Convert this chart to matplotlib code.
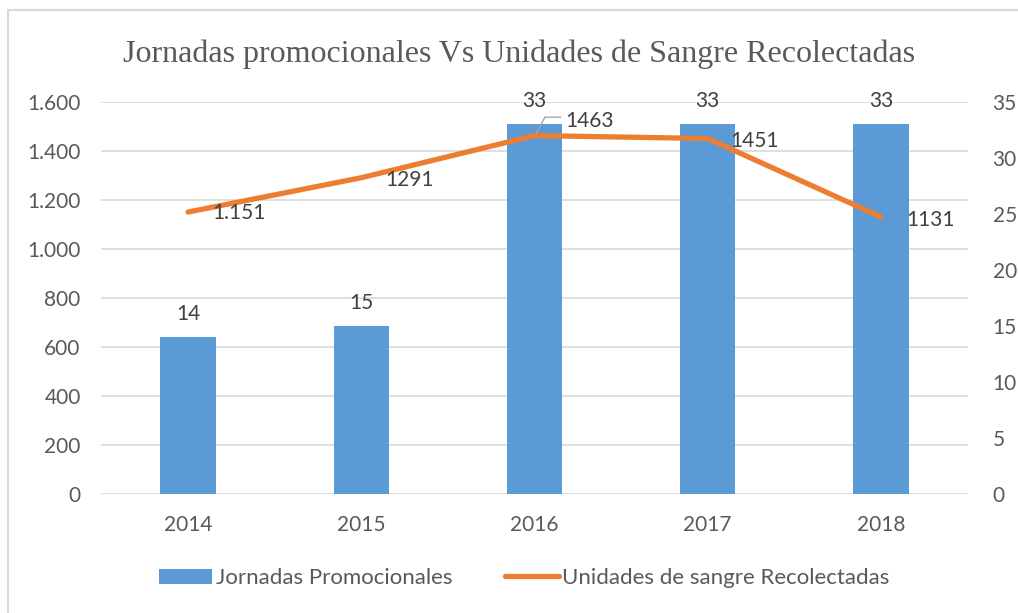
import matplotlib.pyplot as plt
from matplotlib.lines import Line2D
from matplotlib.patches import Patch, Rectangle
import numpy as np

years = ["2014", "2015", "2016", "2017", "2018"]
jornadas = [14, 15, 33, 33, 33]
unidades = [1151, 1291, 1463, 1451, 1131]
unidades_labels = ["1.151", "1291", "1463", "1451", "1131"]
left_ticks = [0, 200, 400, 600, 800, 1000, 1200, 1400, 1600]
left_ticklabels = ["0", "200", "400", "600", "800", "1.000", "1.200", "1.400", "1.600"]
right_ticks = [0, 5, 10, 15, 20, 25, 30, 35]

blue = "#5B9BD5"
orange = "#ED7D31"
txt = "#595959"
grid = "#D9D9D9"
font = "Lato"
fs = 15

fig = plt.figure(figsize=(10.18, 6.13), dpi=100)
fig.patches.append(Rectangle((8 / 1018, -0.1), 1.2, 1 - 10.5 / 613 + 0.1,
                             transform=fig.transFigure, fill=False,
                             edgecolor=grid, linewidth=1.5))

ax = fig.add_axes([0.0997, 0.194, 0.8507, 0.6396])
ax2 = ax.twinx()
x = np.arange(len(years))

# bars go on the right axis, line on the left axis
ax2.bar(x, jornadas, width=0.32, color=blue, zorder=2)
ax.plot(x, unidades, color=orange, linewidth=3.8, solid_capstyle="round", zorder=3)
ax.set_zorder(ax2.get_zorder() + 1)
ax.patch.set_visible(False)

ax.set_xlim(-0.5, 4.5)
ax.set_ylim(0, 1600)
ax2.set_ylim(0, 35)
ax.set_yticks(left_ticks)
ax.set_yticklabels(left_ticklabels)
ax2.set_yticks(right_ticks)
ax.set_xticks(x)
ax.set_xticklabels(years)

for a in (ax, ax2):
    for s in a.spines.values():
        s.set_visible(False)
    a.tick_params(length=0, labelsize=fs, labelcolor=txt)
    for lab in a.get_xticklabels() + a.get_yticklabels():
        lab.set_fontfamily(font)
ax.tick_params(axis="y", pad=15)
ax2.tick_params(axis="y", pad=18)
ax.tick_params(axis="x", pad=15)
for t in left_ticks:
    ax2.axhline(t * 35 / 1600, color=grid, linewidth=1.2, zorder=0)

for xi, v in zip(x, jornadas):
    ax2.text(xi, v + 2.1, str(v), ha="center", va="center", fontsize=fs,
             color="#404040", fontfamily=font)

# label offsets: x in category units, y in pixels
offsets = [(0.14, -1), (0.14, -2.5), (0.175, 15), (0.13, -2), (0.145, -3)]
for xi, v, lab, (dx, dy) in zip(x, unidades, unidades_labels, offsets):
    ax.text(xi + dx, v + dy * 4.08, lab, ha="left", va="center", fontsize=fs,
            color="#404040", fontfamily=font)
# leader line for the 2016 label
ax.plot([2.01, 2.06, 2.15], [1472, 1538, 1538], color="#A6A6A6", linewidth=1, zorder=4)

fig.text(0.51, 0.912, "Jornadas promocionales Vs Unidades de Sangre Recolectadas",
         ha="center", va="center", fontsize=23, color=txt, fontfamily="Liberation Serif")

handles = [Patch(facecolor=blue, edgecolor="none"),
           Line2D([0], [0], color=orange, linewidth=3.8, solid_capstyle="round")]
leg = fig.legend(handles, ["Jornadas Promocionales", "Unidades de sangre Recolectadas"],
                 loc="center", bbox_to_anchor=(0.515, 0.057), ncol=2, frameon=False,
                 prop={"family": font, "size": 16}, handlelength=2.4,
                 handletextpad=0.15, columnspacing=2.4)
for t in leg.get_texts():
    t.set_color(txt)

fig.savefig("out.png", dpi=100)
